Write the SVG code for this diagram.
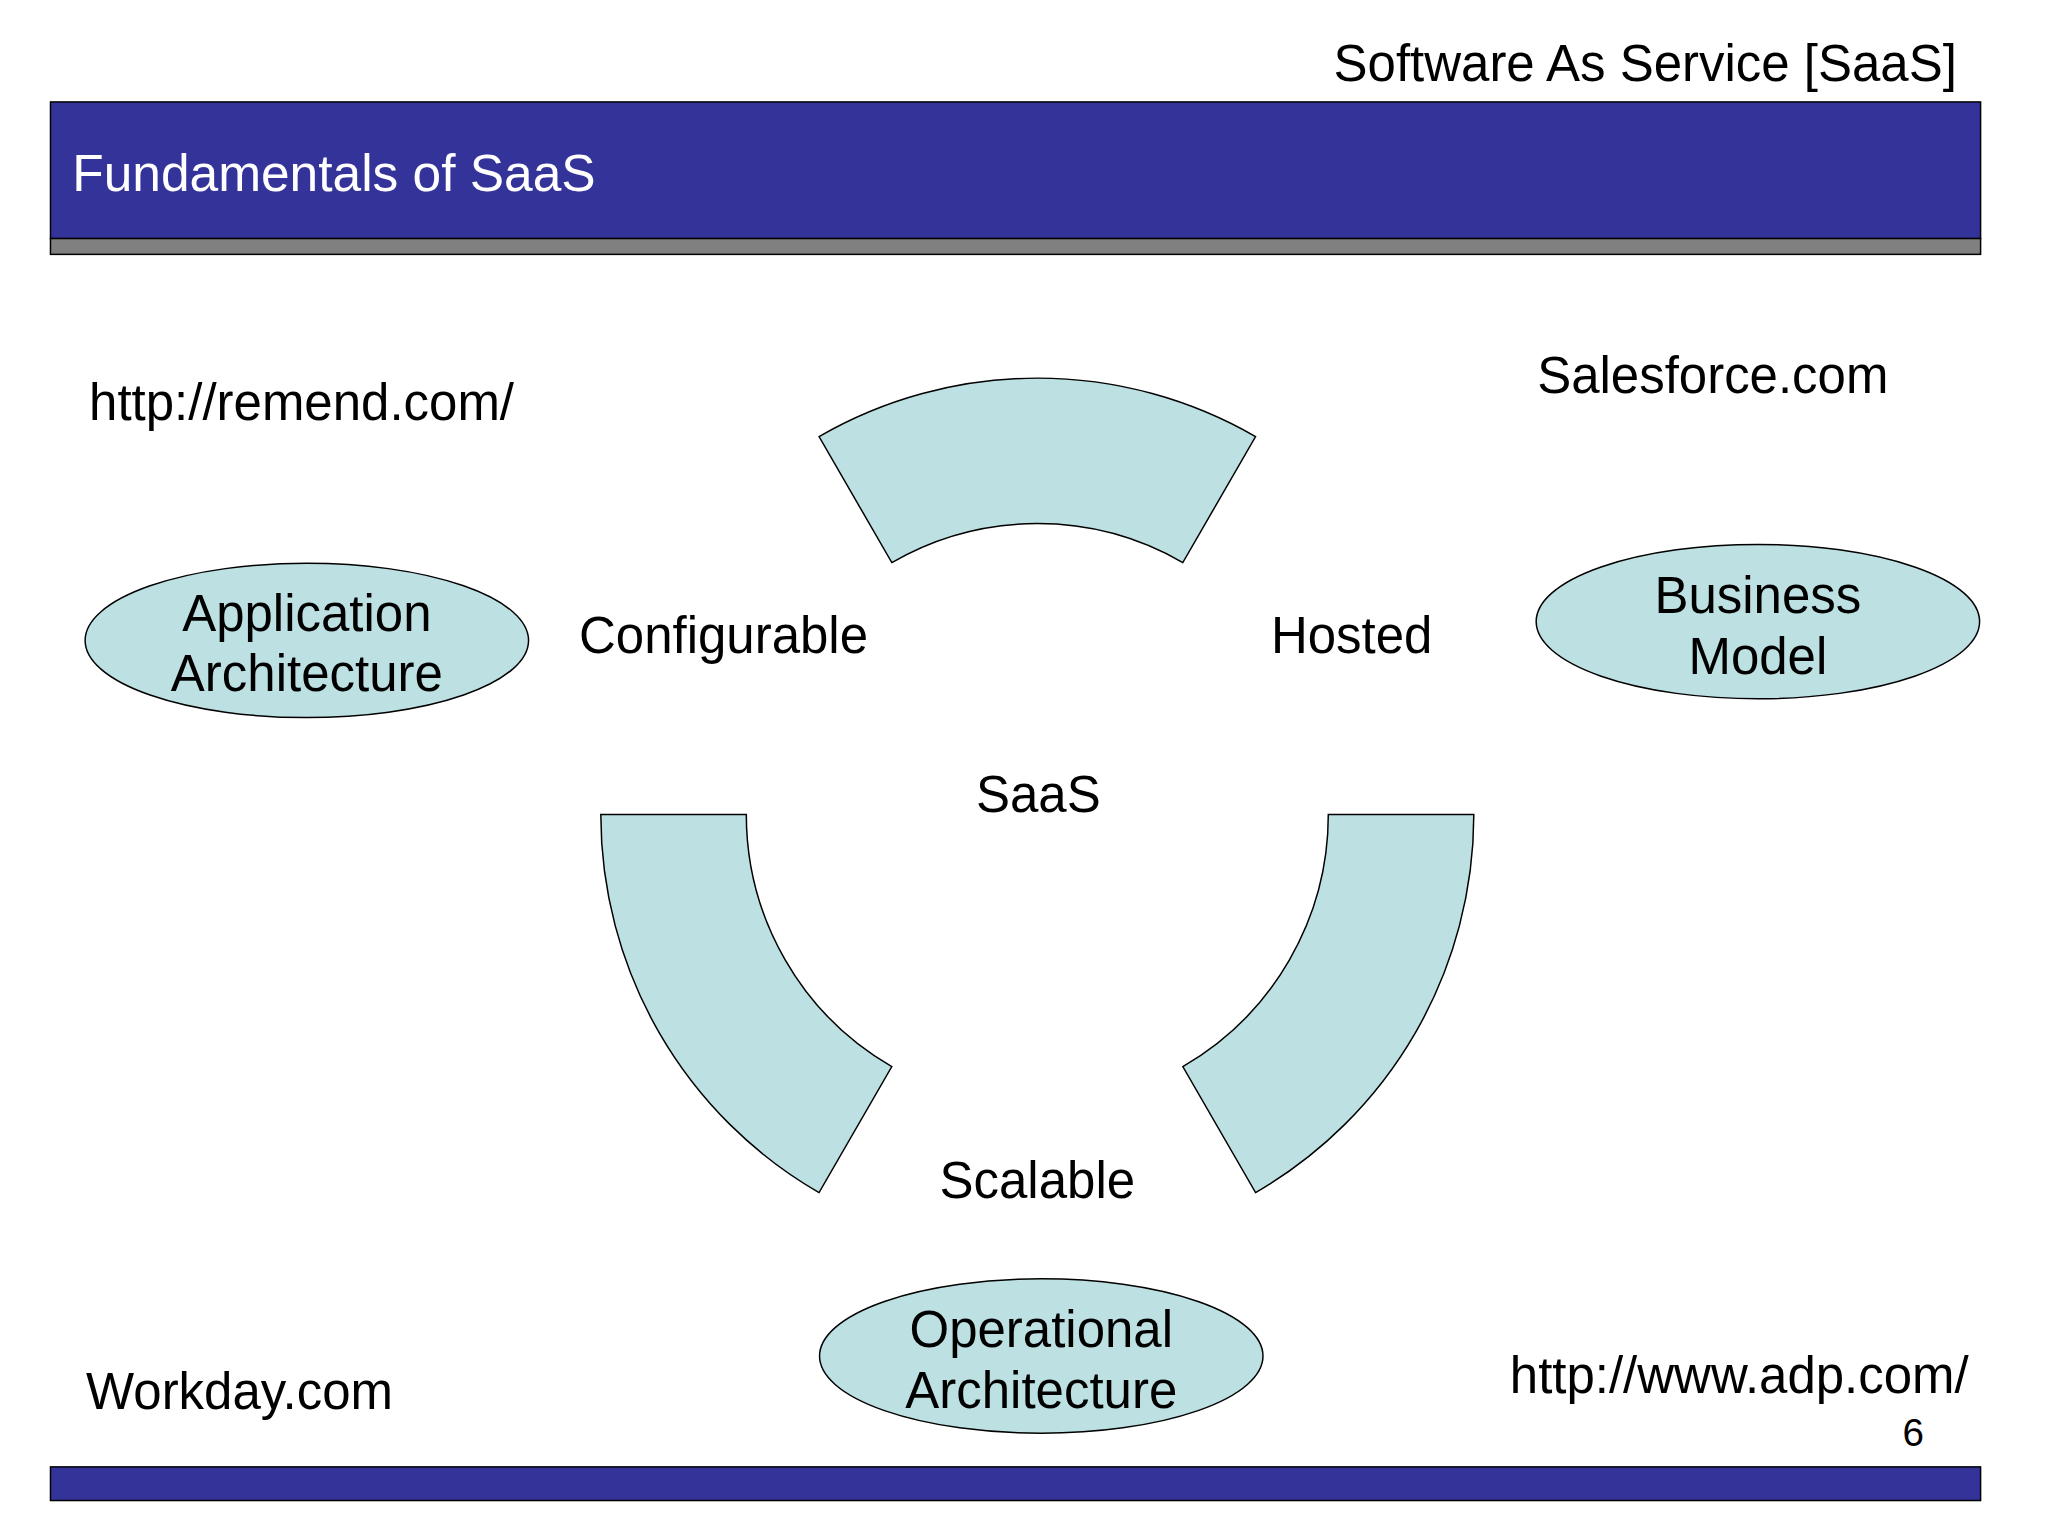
<svg xmlns="http://www.w3.org/2000/svg" width="2048" height="1536" viewBox="0 0 2048 1536">
<style>
text{font-family:"Liberation Sans",Arial,sans-serif;font-size:51.5px;fill:#000}
.c{text-anchor:middle}
.shape{fill:#BDE0E3;stroke:#000;stroke-width:1.5}
</style>
<rect width="2048" height="1536" fill="#fff"/>
<g transform="scale(0.9898)">
<g id="header">
<text x="1977" y="82" text-anchor="end">Software As Service [SaaS]</text>
<rect x="51" y="103" width="1950" height="138" fill="#333399" stroke="#000" stroke-width="1.5"/>
<rect x="51" y="241" width="1950" height="16" fill="#808080" stroke="#000" stroke-width="1.5"/>
<text x="73" y="193" style="fill:#fff;font-size:52px">Fundamentals of SaaS</text>
</g>
<g id="footer">
<rect x="51" y="1482" width="1950" height="34" fill="#333399" stroke="#000" stroke-width="1.5"/>
<text x="1933" y="1461" class="c" style="font-size:39px">6</text>
</g>
<g id="connectors">
<path class="shape" d="M827.5,441.1 A441,441 0 0 1 1268.5,441.1 L1195,568.4 A294,294 0 0 0 901,568.4 Z"/>
<path class="shape" d="M607,823 A441,441 0 0 0 827.5,1204.9 L901,1077.6 A294,294 0 0 1 754,823 Z"/>
<path class="shape" d="M1489,823 A441,441 0 0 1 1268.5,1204.9 L1195,1077.6 A294,294 0 0 0 1342,823 Z"/>
</g>
<g id="labels">
<text x="585" y="660">Configurable</text>
<text x="1284" y="660">Hosted</text>
<text x="1049" y="820" class="c">SaaS</text>
<text x="1048" y="1210" class="c">Scalable</text>
<text x="90" y="424">http://remend.com/</text>
<text x="1553" y="397">Salesforce.com</text>
<text x="87" y="1424">Workday.com</text>
<text x="1989" y="1407" text-anchor="end">http://www.adp.com/</text>
</g>
<g id="app-arch">
<ellipse class="shape" cx="310" cy="647" rx="224" ry="78"/>
<text x="310" y="637" class="c">Application</text>
<text x="310" y="698" class="c">Architecture</text>
</g>
<g id="business-model">
<ellipse class="shape" cx="1776" cy="628" rx="224" ry="78"/>
<text x="1776" y="619" class="c">Business</text>
<text x="1776" y="681" class="c">Model</text>
</g>
<g id="op-arch">
<ellipse class="shape" cx="1052" cy="1370" rx="224" ry="78"/>
<text x="1052" y="1361" class="c">Operational</text>
<text x="1052" y="1423" class="c">Architecture</text>
</g>
</g>
</svg>
